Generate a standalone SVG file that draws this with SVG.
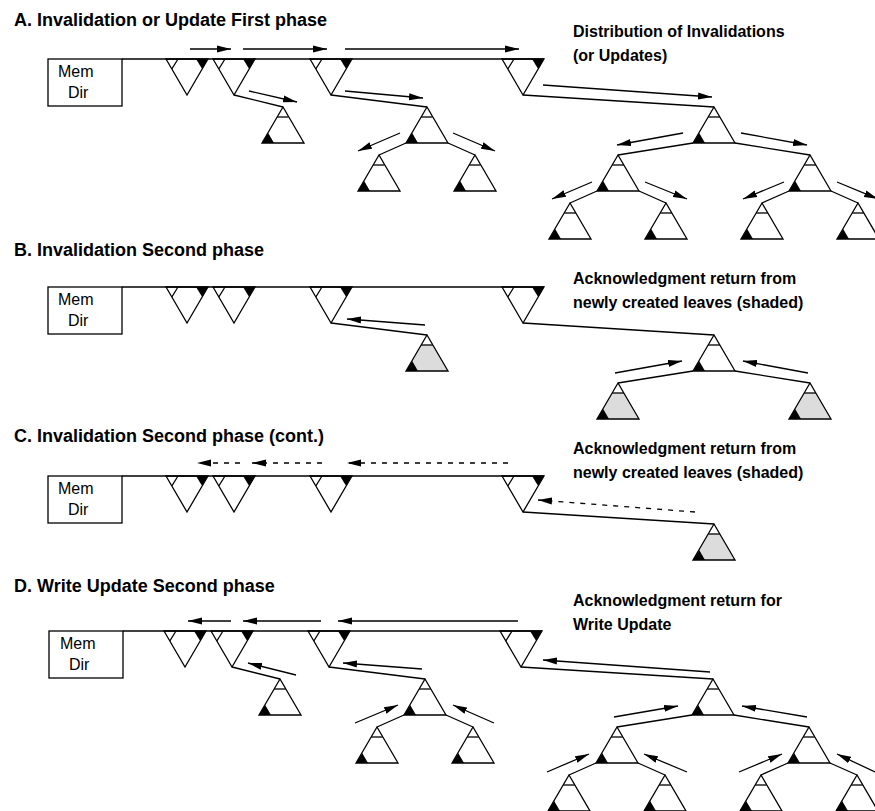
<svg xmlns="http://www.w3.org/2000/svg" xmlns:xlink="http://www.w3.org/1999/xlink" width="875" height="811" viewBox="0 0 875 811">
<style>
  .title{font-family:"Liberation Sans",Arial,sans-serif;font-weight:bold;font-size:18px;fill:#000}
  .label{font-family:"Liberation Sans",Arial,sans-serif;font-weight:bold;font-size:16px;fill:#000}
  .box-t{font-family:"Liberation Sans",Arial,sans-serif;font-size:16px;fill:#000}
  .ln{stroke:#000;stroke-width:1.3;fill:none}
  .box{stroke:#000;stroke-width:1.3;fill:#fff}
  .tri{stroke:#000;stroke-width:1.3;fill:none;stroke-linejoin:miter}
  .blk{fill:#000;stroke:none}
  .shade{fill:#dcdcdc;stroke:none}
  .arr{stroke:#000;stroke-width:1.3;fill:none;marker-end:url(#ah)}
  .darr{stroke:#000;stroke-width:1.3;fill:none;stroke-dasharray:5 6;marker-end:url(#ah)}
</style>
<defs>
  <marker id="ah" markerUnits="userSpaceOnUse" markerWidth="14" markerHeight="8" refX="14" refY="4" orient="auto">
    <path d="M0,0.5 L14,4 L0,7.5 z" fill="#000"/>
  </marker>
  <g id="inv">
    <polygon class="blk" points="30,0 42,0 36.2,10"/>
    <polygon class="tri" points="0,0 42,0 21,36"/>
    <line class="ln" x1="12" y1="0" x2="5.8" y2="10"/>
  </g>
  <g id="up">
    <polygon class="blk" points="-21,36 -9,36 -14.8,26"/>
    <polygon class="tri" points="0,0 -21,36 21,36"/>
    <line class="ln" x1="-5.8" y1="10" x2="5.8" y2="10"/>
  </g>
  <g id="ups">
    <polygon class="shade" points="-5.8,10 5.8,10 21,36 -21,36"/>
    <polygon class="blk" points="-21,36 -9,36 -14.8,26"/>
    <polygon class="tri" points="0,0 -21,36 21,36"/>
    <line class="ln" x1="-5.8" y1="10" x2="5.8" y2="10"/>
  </g>
</defs>

<!-- ============ Section A ============ -->
<text class="title" x="14" y="26">A. Invalidation or Update First phase</text>
<text class="label" x="573" y="37">Distribution of Invalidations</text>
<text class="label" x="573" y="61">(or Updates)</text>
<g id="A-memdir">
  <rect class="box" x="48" y="59" width="74" height="47"/>
  <text class="box-t" x="58" y="77">Mem</text>
  <text class="box-t" x="68" y="97.5">Dir</text>
</g>
<g id="A-connectors">
  <path class="ln" d="M122,59 H544"/>
  <path class="ln" d="M234,95 L283,107 M331,95 L427,107 M523,95 L714,107"/>
  <path class="ln" d="M406,143 L379,155 M448,143 L475,155 M693,143 L618,155 M735,143 L810,155"/>
  <path class="ln" d="M597,191 L570,203 M639,191 L666,203 M789,191 L762,203 M831,191 L858,203"/>
  <line class="arr" x1="190" y1="49" x2="231" y2="49"/>
  <line class="arr" x1="243" y1="49" x2="327" y2="49"/>
  <line class="arr" x1="345" y1="49" x2="519" y2="49"/>
  <line class="arr" x1="249" y1="91" x2="297" y2="102"/>
  <line class="arr" x1="345" y1="91" x2="423" y2="98"/>
  <line class="arr" x1="400" y1="133" x2="358" y2="151"/>
  <line class="arr" x1="453" y1="133" x2="495" y2="151"/>
  <line class="arr" x1="543" y1="85" x2="712" y2="97"/>
  <line class="arr" x1="683" y1="133" x2="617" y2="145"/>
  <line class="arr" x1="741" y1="133" x2="807" y2="145"/>
  <line class="arr" x1="592" y1="182" x2="552" y2="199"/>
  <line class="arr" x1="645" y1="182" x2="687" y2="199"/>
  <line class="arr" x1="784" y1="182" x2="743" y2="199"/>
  <line class="arr" x1="837" y1="182" x2="878" y2="199"/>
</g>
<g id="A-n1"><use xlink:href="#inv" x="166" y="59"/></g>
<g id="A-n2"><use xlink:href="#inv" x="213" y="59"/></g>
<g id="A-n3"><use xlink:href="#inv" x="310" y="59"/></g>
<g id="A-n4"><use xlink:href="#inv" x="502" y="59"/></g>
<g id="A-u1"><use xlink:href="#up" x="283" y="107"/></g>
<g id="A-u2"><use xlink:href="#up" x="427" y="107"/></g>
<g id="A-u2a"><use xlink:href="#up" x="379" y="155"/></g>
<g id="A-u2b"><use xlink:href="#up" x="475" y="155"/></g>
<g id="A-u3"><use xlink:href="#up" x="714" y="107"/></g>
<g id="A-u3a"><use xlink:href="#up" x="618" y="155"/></g>
<g id="A-u3b"><use xlink:href="#up" x="810" y="155"/></g>
<g id="A-u3aa"><use xlink:href="#up" x="570" y="203"/></g>
<g id="A-u3ab"><use xlink:href="#up" x="666" y="203"/></g>
<g id="A-u3ba"><use xlink:href="#up" x="762" y="203"/></g>
<g id="A-u3bb"><use xlink:href="#up" x="858" y="203"/></g>

<!-- ============ Section B ============ -->
<text class="title" x="14" y="256">B. Invalidation Second phase</text>
<text class="label" x="573" y="284">Acknowledgment return from</text>
<text class="label" x="573" y="308">newly created leaves (shaded)</text>
<g id="B-memdir">
  <rect class="box" x="48" y="287" width="74" height="47"/>
  <text class="box-t" x="58" y="305">Mem</text>
  <text class="box-t" x="68" y="325.5">Dir</text>
</g>
<g id="B-connectors">
  <path class="ln" d="M122,287 H544"/>
  <path class="ln" d="M331,323 L427,335 M523,323 L714,335 M693,371 L618,383 M735,371 L810,383"/>
  <line class="arr" x1="425" y1="325" x2="347" y2="319"/>
  <line class="arr" x1="615" y1="373" x2="682" y2="361"/>
  <line class="arr" x1="808" y1="373" x2="743" y2="361"/>
</g>
<g id="B-n1"><use xlink:href="#inv" x="166" y="287"/></g>
<g id="B-n2"><use xlink:href="#inv" x="213" y="287"/></g>
<g id="B-n3"><use xlink:href="#inv" x="310" y="287"/></g>
<g id="B-n4"><use xlink:href="#inv" x="502" y="287"/></g>
<g id="B-u1"><use xlink:href="#ups" x="427" y="335"/></g>
<g id="B-u2"><use xlink:href="#up" x="714" y="335"/></g>
<g id="B-u2a"><use xlink:href="#ups" x="618" y="383"/></g>
<g id="B-u2b"><use xlink:href="#ups" x="810" y="383"/></g>

<!-- ============ Section C ============ -->
<text class="title" x="14" y="442">C. Invalidation Second phase (cont.)</text>
<text class="label" x="573" y="454">Acknowledgment return from</text>
<text class="label" x="573" y="478">newly created leaves (shaded)</text>
<g id="C-memdir">
  <rect class="box" x="48" y="476" width="74" height="47"/>
  <text class="box-t" x="58" y="494">Mem</text>
  <text class="box-t" x="68" y="514.5">Dir</text>
</g>
<g id="C-connectors">
  <path class="ln" d="M122,476 H544"/>
  <path class="ln" d="M523,512 L714,524"/>
  <line class="darr" x1="240" y1="463" x2="197" y2="463"/>
  <line class="darr" x1="322" y1="463" x2="252" y2="463"/>
  <line class="darr" x1="508" y1="463" x2="347" y2="463"/>
  <line class="darr" x1="695" y1="512" x2="538" y2="500"/>
</g>
<g id="C-n1"><use xlink:href="#inv" x="166" y="476"/></g>
<g id="C-n2"><use xlink:href="#inv" x="213" y="476"/></g>
<g id="C-n3"><use xlink:href="#inv" x="310" y="476"/></g>
<g id="C-n4"><use xlink:href="#inv" x="502" y="476"/></g>
<g id="C-u1"><use xlink:href="#ups" x="714" y="524"/></g>

<!-- ============ Section D ============ -->
<text class="title" x="14" y="592">D. Write Update Second phase</text>
<text class="label" x="573" y="606">Acknowledgment return for</text>
<text class="label" x="573" y="630">Write Update</text>
<g id="D-memdir">
  <rect class="box" x="49" y="631" width="74" height="47"/>
  <text class="box-t" x="60" y="648.5">Mem</text>
  <text class="box-t" x="69" y="669.5">Dir</text>
</g>
<g id="D-connectors">
  <path class="ln" d="M123,631 H542"/>
  <path class="ln" d="M232,667 L280,679 M329,667 L425,679 M521,667 L713,679"/>
  <path class="ln" d="M404,715 L377,727 M446,715 L473,727 M692,715 L617,727 M734,715 L809,727"/>
  <path class="ln" d="M596,763 L569,775 M638,763 L665,775 M788,763 L761,775 M830,763 L857,775"/>
  <line class="arr" x1="231" y1="621" x2="188" y2="621"/>
  <line class="arr" x1="321" y1="621" x2="243" y2="621"/>
  <line class="arr" x1="518" y1="621" x2="338" y2="621"/>
  <line class="arr" x1="296" y1="675" x2="248" y2="663"/>
  <line class="arr" x1="422" y1="669" x2="343" y2="663"/>
  <line class="arr" x1="355" y1="723" x2="398" y2="705"/>
  <line class="arr" x1="494" y1="723" x2="453" y2="705"/>
  <line class="arr" x1="710" y1="672" x2="543" y2="660"/>
  <line class="arr" x1="614" y1="717" x2="678" y2="706"/>
  <line class="arr" x1="807" y1="717" x2="742" y2="706"/>
  <line class="arr" x1="547" y1="772" x2="589" y2="754"/>
  <line class="arr" x1="687" y1="772" x2="644" y2="754"/>
  <line class="arr" x1="739" y1="772" x2="782" y2="754"/>
  <line class="arr" x1="875" y1="772" x2="837" y2="754"/>
</g>
<g id="D-n1"><use xlink:href="#inv" x="164" y="631"/></g>
<g id="D-n2"><use xlink:href="#inv" x="211" y="631"/></g>
<g id="D-n3"><use xlink:href="#inv" x="308" y="631"/></g>
<g id="D-n4"><use xlink:href="#inv" x="500" y="631"/></g>
<g id="D-u1"><use xlink:href="#up" x="280" y="679"/></g>
<g id="D-u2"><use xlink:href="#up" x="425" y="679"/></g>
<g id="D-u2a"><use xlink:href="#up" x="377" y="727"/></g>
<g id="D-u2b"><use xlink:href="#up" x="473" y="727"/></g>
<g id="D-u3"><use xlink:href="#up" x="713" y="679"/></g>
<g id="D-u3a"><use xlink:href="#up" x="617" y="727"/></g>
<g id="D-u3b"><use xlink:href="#up" x="809" y="727"/></g>
<g id="D-u3aa"><use xlink:href="#up" x="569" y="775"/></g>
<g id="D-u3ab"><use xlink:href="#up" x="665" y="775"/></g>
<g id="D-u3ba"><use xlink:href="#up" x="761" y="775"/></g>
<g id="D-u3bb"><use xlink:href="#up" x="857" y="775"/></g>
</svg>
